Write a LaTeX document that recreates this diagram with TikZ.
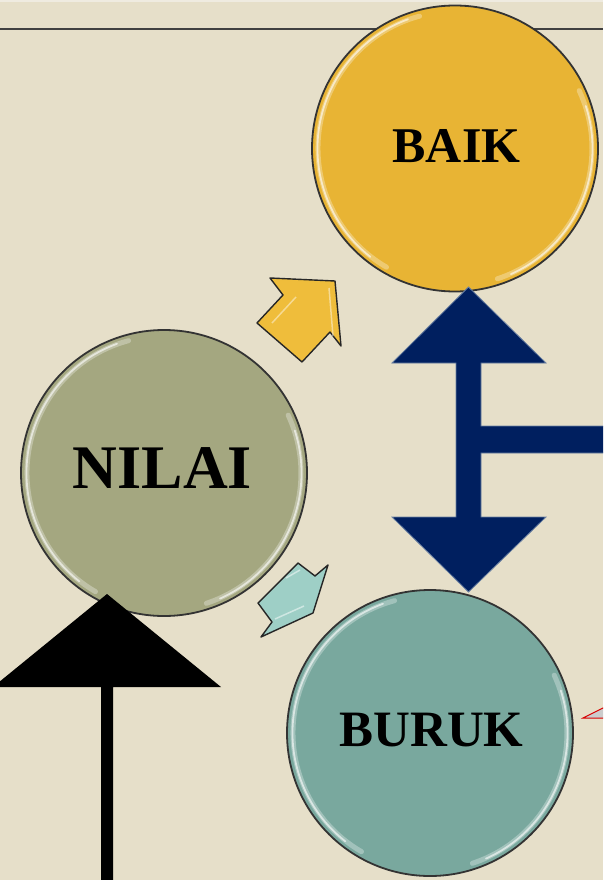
\documentclass[tikz,border=0pt]{standalone}
\usepackage{fontspec}
\setmainfont{Liberation Serif}
\definecolor{paper}{HTML}{E6DFC9}
\definecolor{paperlight}{HTML}{EFEBE0}
\definecolor{rulegray}{HTML}{404040}
\definecolor{gold}{HTML}{E8B434}
\definecolor{olive}{HTML}{A4A780}
\definecolor{teal}{HTML}{79A89E}
\definecolor{navy}{HTML}{001F5F}
\definecolor{navyedge}{HTML}{6A80A2}
\definecolor{goldarrow}{HTML}{EFBD3B}
\definecolor{mint}{HTML}{9ECFC6}
\begin{document}
\begin{tikzpicture}[x=1pt,y=-1pt,
  bubble/.style={circle, minimum size=286pt, inner sep=0pt, draw=black!80, line width=1.8pt},
  word/.style={font=\fontsize{50}{60}\selectfont\bfseries, text=black, inner sep=0pt},
  glosswide/.style={white, opacity=0.3, line width=5pt, line cap=round},
  gloss/.style={white, opacity=0.6, line width=1.8pt, line cap=round},
  smallarrow/.style={draw=black!85, line width=1.4pt, line join=round},
  bigarrow/.style={fill=navy, draw=navyedge, line width=0.8pt}]
\useasboundingbox (0,0) rectangle (603,880);
\clip (0,0) rectangle (603,880);

% page
\fill[paper] (0,0) rectangle (603,880);
\fill[paperlight] (0,0) rectangle (603,2);
\draw[rulegray, line width=1.3pt] (0,29) -- (603,29);

% the three bubbles
\node[bubble, fill=gold]  (baik)  at (455,148.5) {};
\node[bubble, fill=olive] (nilai) at (164,473) {};
\node[bubble, fill=teal]  (buruk) at (430,733) {};

% glossy inner rims
\foreach \c in {baik,nilai,buruk}{
  \begin{scope}[shift={(\c.center)}]
    \draw[glosswide] (-105:137) arc[start angle=-105, end angle=-240, radius=137];
    \draw[gloss] (-110:137.5) arc[start angle=-110, end angle=-232, radius=137.5];
    \draw[glosswide] (72:137) arc[start angle=72, end angle=-25, radius=137];
    \draw[gloss] (66:137.5) arc[start angle=66, end angle=-18, radius=137.5];
  \end{scope}
}

% labels
\node[word] (baiktext)  at (456.5,146.5) {BAIK};
\node[word, font=\fontsize{62}{70}\selectfont\bfseries] (nilaitext) at (162.5,468.5) {NILAI};
\node[word, font=\fontsize{51}{60}\selectfont\bfseries] (buruktext) at (431.5,730) {BURUK};

% small block arrows from NILAI
\filldraw[smallarrow, fill=goldarrow]
  (335,281) -- (341,346) -- (330,332) -- (302,362) -- (257,323) -- (283,295) -- (270,278) -- cycle;
\draw[white, opacity=0.45, line width=1.5pt, line join=round]
  (329,288) -- (333,336) (272,323) -- (296,297);
\filldraw[smallarrow, fill=mint]
  (313,613) -- (261,637) -- (272,622) -- (258,603) -- (298,563) -- (315,576) -- (328,565) -- cycle;
\draw[white, opacity=0.5, line width=1.5pt, line join=round]
  (304,606) -- (275,619) (286,578) -- (300,570);

% navy double arrow with side branch
\filldraw[bigarrow]
  (468.5,287) -- (546,363) -- (481,363) -- (481,426) -- (612,426) -- (612,453)
  -- (481,453) -- (481,517) -- (546,517) -- (468.5,592) -- (392,517) -- (456,517)
  -- (456,363) -- (392,363) -- cycle;

% black up arrow
\fill[black]
  (107,594) -- (221,687) -- (113,687) -- (113,890) -- (101,890) -- (101,687) -- (-7,687) -- cycle;

% partial marker at the right edge
\filldraw[draw=red!85!black, fill=gray!40!white, line width=1pt]
  (583,718) -- (612,703.5) -- (612,718) -- cycle;
\end{tikzpicture}
\end{document}
